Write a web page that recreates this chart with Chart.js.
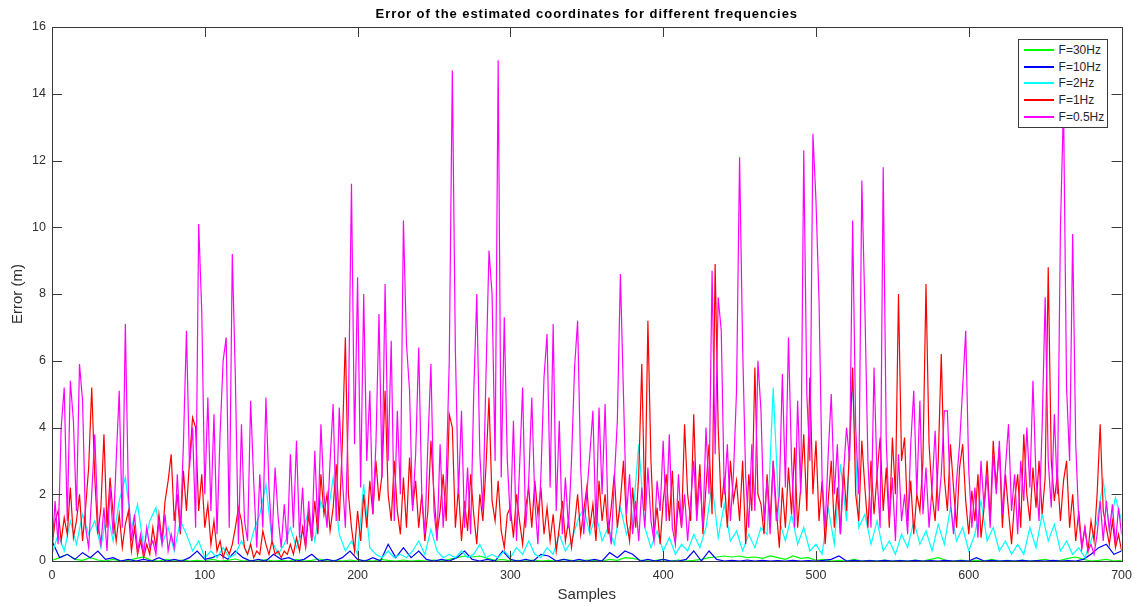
<!DOCTYPE html>
<html>
<head>
<meta charset="utf-8">
<script src="https://cdn.jsdelivr.net/npm/chart.js@4.4.1/dist/chart.umd.min.js"></script>
<style>
  html, body { margin: 0; padding: 0; background: #ffffff; }
  #wrap { position: relative; width: 1139px; height: 607px; }
  #title { position: absolute; top: 5px; text-align: center; white-space: nowrap;
           font-family: "Liberation Sans", Arial, sans-serif; font-weight: bold; font-size: 13px;
           letter-spacing: 0.95px; color: #000; line-height: 18px; }
  #legend { position: absolute; background: #fff; border: 1px solid #3a3a3a; padding: 2px 3px 2px 5px;
            font-family: "Liberation Sans", Arial, sans-serif; font-size: 12px; color: #262626; }
  .row { display: flex; align-items: center; height: 16.6px; }
  .sw { width: 30px; height: 2px; margin-right: 5px; }
</style>
</head>
<body>
<div id="wrap">
  <canvas id="c" width="1139" height="607"></canvas>
  <div id="title"></div>
  <div id="legend"></div>
</div>
<script>
// ---- data ----
const chartTitle = 'Error of the estimated coordinates for different frequencies';
const seriesLabels = ['F=30Hz', 'F=10Hz', 'F=2Hz', 'F=1Hz', 'F=0.5Hz'];
const seriesColors = ['#00ff00', '#0000ff', '#00ffff', '#ff0000', '#ff00ff'];
const xTicks = [0, 100, 200, 300, 400, 500, 600, 700];
const yTicks = [0, 2, 4, 6, 8, 10, 12, 14, 16];

// sample spacing of each value list
const greenStep = 5, blueStep = 5, cyanStep = 4, redStep = 2, magentaStep = 2;

const green = [0.02,0.1,0.2,0.05,0.02,0.1,0.03,0,0.05,0,0.02,0.08,0.12,0.02,0,0.05,0,0.03,0,0.02,
0,0.05,0,0.02,0.06,0,0.02,0,0.04,0,0.02,0,0.05,0,0.02,0.06,0,0.02,0,0.03,
0,0.02,0,0.05,0.02,0,0.03,0,0.02,0,0.03,0,0.05,0.1,0.15,0.12,0.15,0.08,0.02,0.05,
0,0.02,0,0.03,0,0.02,0,0.05,0.02,0,0.03,0.02,0,0.05,0.02,0.1,0.08,0.03,0,0.02,
0.05,0,0.03,0,0.02,0.05,0.1,0.12,0.15,0.12,0.15,0.1,0.12,0.08,0.15,0.1,0.05,0.15,0.08,0.1,
0.02,0.05,0,0.02,0,0.05,0,0.02,0,0.03,0,0.02,0,0.03,0,0.05,0.1,0.02,0,0.03,
0,0.02,0,0.05,0,0.02,0,0.03,0,0.02,0.05,0,0.02,0.08,0.12,0.05,0,0.02,0.05,0,0.02];

const blue = [0.6,0.1,0.2,0.05,0.25,0.1,0.3,0.05,0.1,0,0.05,0,0.05,0,0.1,0,0.05,0,0.1,0.3,
0.05,0.1,0.2,0.05,0.3,0.1,0,0.05,0,0.2,0.05,0.1,0,0.05,0.2,0,0.05,0,0.1,0.3,
0.05,0,0.1,0,0.5,0.1,0.4,0.1,0.3,0.05,0,0.05,0,0.1,0.3,0.05,0,0.05,0,0.3,
0.05,0,0.05,0,0.2,0.15,0,0.05,0,0.05,0,0.05,0,0.25,0.1,0.3,0.2,0,0.05,0,
0.05,0,0,0.05,0.3,0,0.3,0.05,0,0.02,0,0.03,0,0.02,0,0.01,0,0.02,0,0.01,
0,0.02,0.05,0.15,0,0.02,0,0.01,0,0.02,0,0.01,0,0.02,0,0.01,0,0.02,0,0.01,
0,0.1,0,0.02,0,0.01,0,0.02,0,0.01,0,0.02,0,0.01,0,0.05,0.2,0.4,0.5,0.2,0.3];

const cyan = [0.2,0.8,0.3,1.2,0.5,1.4,0.8,1.2,0.4,1.5,0.6,1.8,2.5,1.0,1.7,0.4,1.2,1.6,0.5,1.0,
0.3,1.2,0.8,0.3,0.6,0.1,0.3,0.1,0.4,0.1,0.2,0.6,0.2,0.9,1.4,2.3,0.6,0.2,0.5,1.0,
0.4,0.9,1.5,0.6,1.8,1.2,2.5,0.8,0.3,0.6,0.2,2.3,0.4,0.2,0.1,0.3,0.1,0.2,0.1,0.3,
0.6,0.2,0.95,0.3,0.1,0.2,0.1,0.3,0.1,0.2,0.5,0.1,0.2,0.1,0.3,0.1,0.4,0.2,0.6,0.2,
0.1,0.4,0.2,0.8,0.3,0.6,1.2,1.6,0.8,1.4,0.6,1.0,0.5,1.6,0.8,1.2,3.5,1.0,0.4,0.9,
0.3,0.7,0.2,0.5,0.3,0.8,0.4,1.0,2.3,0.7,1.7,0.6,0.9,0.3,0.8,0.4,1.0,0.8,5.2,1.2,
0.6,1.4,0.5,1.0,0.3,0.5,0.2,1.6,0.5,2.9,1.2,5.4,1.0,1.4,0.5,1.2,0.3,0.6,0.2,0.8,
0.4,1.2,0.5,0.9,0.3,1.1,0.5,1.6,0.6,1.0,0.3,0.8,1.8,0.6,1.0,0.3,0.6,0.2,0.5,0.2,
1.0,0.4,1.4,0.6,1.1,0.3,0.6,0.2,0.4,0.1,0.6,1.2,2.4,1.0,1.9,1.2];

const red = [0.4,1.2,1.5,0.6,1.3,0.8,2.2,0.7,1.2,2.0,0.6,1.6,2.8,5.2,2.5,0.8,1.6,3.8,1.0,2.5,1.4,0.6,1.4,0.4,1.1,
1.5,0.3,1.0,0.2,0.6,0.1,0.5,0.2,1.0,0.4,1.4,0.6,1.8,2.4,3.2,1.2,2.0,0.8,2.7,1.5,3.0,4.3,4.0,1.5,2.6,
1.0,1.7,0.5,1.2,0.3,0.6,0.1,0.4,0.2,0.5,1.0,1.6,1.2,0.4,0.2,0.5,0.1,0.3,0.2,0.9,0.5,0.2,0.6,0.2,0.3,
0.1,0.3,0.2,0.5,0.2,0.7,0.3,1.0,0.4,1.4,0.6,1.8,0.8,2.6,1.4,2.0,0.9,1.6,2.9,1.2,3.5,6.7,2.0,1.0,0.3,
1.5,0.6,2.0,1.0,2.4,1.4,3.0,1.8,2.6,5.1,2.0,1.2,3.0,1.5,0.8,2.5,1.0,3.1,1.6,2.4,1.0,2.0,0.6,1.5,3.6,
2.0,0.8,1.5,2.6,1.2,4.4,4.0,1.0,2.2,0.6,1.8,0.9,2.6,1.4,0.5,2.0,1.2,2.8,4.9,1.8,1.2,2.4,0.9,0.4,1.4,
1.6,0.7,2.0,1.2,0.5,1.6,2.2,1.0,2.4,1.4,2.2,0.8,1.6,0.6,1.4,0.3,1.0,1.8,0.6,1.2,0.4,1.1,2.0,0.8,1.5,
2.2,1.0,1.7,0.6,2.4,1.2,2.0,0.8,1.6,2.6,1.0,1.8,3.0,1.2,0.6,2.2,1.0,2.6,5.9,1.5,7.2,3.0,0.8,1.6,0.5,
1.8,2.6,1.2,2.7,0.6,1.8,1.0,4.1,2.0,1.2,4.4,1.5,2.9,0.8,2.2,3.5,1.4,8.9,4.0,1.6,2.5,1.0,3.0,1.8,2.4,
1.2,3.0,0.5,2.6,1.5,5.8,2.0,1.7,0.8,2.6,1.2,3.0,1.6,0.4,2.2,1.0,2.8,1.4,3.4,1.0,2.2,3.8,1.5,5.5,2.0,
3.6,1.2,2.4,0.5,1.8,3.0,1.0,2.2,0.8,2.8,1.5,3.4,5.8,2.0,1.2,3.6,2.2,1.0,3.0,1.4,2.6,3.7,1.5,2.8,1.0,
3.7,2.0,8.0,3.0,3.7,1.2,2.4,0.8,2.0,1.5,3.0,8.3,3.5,2.0,1.2,3.0,6.2,2.5,1.5,3.5,2.2,1.0,2.8,3.5,1.8,
0.8,2.1,1.2,2.6,0.7,1.6,3.0,1.2,3.6,2.2,3.4,1.0,2.6,1.5,0.5,1.8,2.6,1.0,3.8,2.0,1.2,2.8,1.6,3.0,1.4,
2.5,8.8,3.0,1.8,2.6,1.2,2.4,3.0,1.0,2.0,0.6,1.5,0.4,1.0,0.3,1.2,0.6,2.0,4.1,1.5,1.0,0.5,1.2,0.4,0.8,0.3];

const magenta = [0.3,1.8,0.5,4.0,5.2,1.2,5.4,4.2,1.5,5.9,4.8,1.0,0.4,2.0,3.8,1.2,0.5,1.6,0.3,2.2,0.8,3.0,5.1,1.0,7.1,
2.0,0.6,1.4,0.3,0.8,0.2,1.0,0.4,0.6,0.2,1.2,0.5,1.4,0.3,0.8,0.4,2.6,0.9,3.5,6.9,2.8,4.0,1.0,10.1,7.5,
2.0,4.9,1.5,4.4,0.8,3.8,6.0,6.7,1.0,9.2,5.5,0.5,4.1,1.2,0.6,4.8,2.4,0.4,2.6,1.0,4.9,2.2,0.6,2.8,1.3,
0.4,1.7,0.5,3.2,1.0,3.6,0.7,2.2,0.4,1.8,0.6,3.3,1.0,4.1,2.0,1.0,3.0,4.7,1.2,4.6,2.5,1.0,4.5,11.3,3.5,
8.5,2.2,8.0,3.0,5.1,1.4,3.5,7.4,2.5,8.3,3.0,6.6,1.2,4.5,2.0,10.2,6.5,5.1,1.5,3.2,6.4,2.0,0.8,3.5,5.9,
1.5,0.6,3.5,1.0,2.5,6.0,14.7,6.3,2.0,4.5,1.0,2.8,0.8,5.0,8.0,3.2,1.5,5.5,9.3,8.0,3.0,15.0,2.5,7.3,3.0,
1.2,4.2,0.6,2.8,5.2,1.0,2.4,4.9,1.8,0.5,2.6,5.5,6.8,2.2,7.1,1.5,4.2,0.8,2.5,1.0,3.0,5.8,7.2,2.8,0.8,
2.0,3.2,4.5,1.0,4.6,2.0,4.7,1.2,0.5,2.4,4.2,8.6,5.0,1.4,2.6,0.8,1.8,0.6,2.2,1.0,2.8,1.2,0.6,2.4,1.5,
3.6,1.2,3.8,1.0,0.5,2.6,1.0,2.0,0.6,1.8,3.0,1.2,2.5,1.0,4.0,2.0,8.7,3.2,7.9,6.9,2.0,3.5,1.2,2.6,5.1,
12.1,6.4,2.5,1.0,3.5,1.5,6.0,4.5,1.2,2.4,0.8,3.0,1.2,2.0,5.6,2.2,6.7,3.0,1.0,4.8,2.0,12.3,5.0,3.0,12.8,
10.8,7.8,2.5,1.0,3.2,5.0,2.0,3.5,0.8,2.6,4.0,3.0,10.2,4.0,2.0,11.4,7.6,3.0,1.0,5.8,2.5,1.0,11.8,3.6,1.2,
2.5,0.6,3.2,1.2,2.0,0.8,3.5,5.1,2.0,4.8,1.4,2.8,1.0,2.2,3.9,1.5,2.6,4.5,4.5,1.8,0.8,2.4,3.5,5.2,6.9,
2.7,1.0,2.2,0.7,3.0,1.6,2.6,1.0,3.2,2.0,3.6,1.4,2.8,4.1,1.5,2.6,0.8,3.0,1.8,4.0,2.2,5.4,2.5,1.2,4.0,
7.9,3.0,1.6,4.4,2.0,10.0,13.7,5.2,3.0,9.8,3.5,1.2,0.4,1.0,0.3,0.5,0.2,0.8,1.8,0.6,1.8,0.9,1.7,0.5,1.6,0.8];

const seriesValues = [green, blue, cyan, red, magenta];
const seriesSteps = [greenStep, blueStep, cyanStep, redStep, magentaStep];

// ---- chart ----
const AXIS = '#3a3a3a';
const TEXT = '#303030';
const FONT = '"Liberation Sans", Arial, sans-serif';

const boxAndTicks = {
  id: 'boxAndTicks',
  afterDatasetsDraw(chart) {
    const {ctx, chartArea: a, scales: {x, y}} = chart;
    const L = 10;
    ctx.save();
    ctx.strokeStyle = AXIS;
    ctx.lineWidth = 1;
    ctx.beginPath();
    xTicks.forEach(v => {
      const px = Math.round(x.getPixelForValue(v)) + 0.5;
      ctx.moveTo(px, a.bottom); ctx.lineTo(px, a.bottom - L);
      ctx.moveTo(px, a.top); ctx.lineTo(px, a.top + L);
    });
    yTicks.forEach(v => {
      const py = Math.round(y.getPixelForValue(v)) + 0.5;
      ctx.moveTo(a.left, py); ctx.lineTo(a.left + L, py);
      ctx.moveTo(a.right, py); ctx.lineTo(a.right - L, py);
    });
    ctx.stroke();
    ctx.strokeRect(Math.round(a.left) + 0.5, Math.round(a.top) + 0.5,
                   Math.round(a.right - a.left), Math.round(a.bottom - a.top));
    ctx.restore();
  }
};

const htmlOverlay = {
  id: 'htmlOverlay',
  afterRender(chart) {
    const a = chart.chartArea;
    const title = document.getElementById('title');
    title.textContent = chartTitle;
    title.style.left = a.left + 'px';
    title.style.width = (a.right - a.left) + 'px';

    const box = document.getElementById('legend');
    if (!box.dataset.built) {
      seriesLabels.forEach((lab, i) => {
        const row = document.createElement('div');
        row.className = 'row';
        const sw = document.createElement('span');
        sw.className = 'sw';
        sw.style.background = seriesColors[i];
        const t = document.createElement('span');
        t.textContent = lab;
        row.appendChild(sw); row.appendChild(t);
        box.appendChild(row);
      });
      box.dataset.built = '1';
    }
    box.style.left = (a.right - 13 - box.offsetWidth) + 'px';
    box.style.top = (a.top + 12) + 'px';
  }
};

const datasets = seriesLabels.map((lab, i) => ({
  label: lab,
  data: seriesValues[i].map((v, k) => ({x: k * seriesSteps[i], y: v})),
  borderColor: seriesColors[i],
  backgroundColor: seriesColors[i],
  borderWidth: 1.2,
  pointRadius: 0,
  tension: 0,
  fill: false,
  order: 5 - i
}));

new Chart(document.getElementById('c'), {
  type: 'line',
  data: { datasets },
  options: {
    responsive: false,
    animation: false,
    events: [],
    layout: { padding: { left: 0, right: 14, top: 27, bottom: 0 } },
    plugins: {
      legend: { display: false },
      tooltip: { enabled: false },
      title: { display: false }
    },
    scales: {
      x: {
        type: 'linear',
        min: 0, max: 700,
        afterBuildTicks: s => { s.ticks = xTicks.map(v => ({value: v})); },
        afterFit: s => { s.height = 46; },
        grid: { display: false, drawTicks: false, tickLength: 0 },
        border: { display: false },
        ticks: { color: TEXT, font: { family: FONT, size: 12.5 }, padding: 7, maxRotation: 0 },
        title: { display: true, text: 'Samples', color: TEXT, font: { family: FONT, size: 15 }, padding: { top: 0, bottom: 3 } }
      },
      y: {
        min: 0, max: 16,
        afterBuildTicks: s => { s.ticks = yTicks.map(v => ({value: v})); },
        afterFit: s => { s.width = 52; },
        grid: { display: false, drawTicks: false, tickLength: 0 },
        border: { display: false },
        ticks: { color: TEXT, font: { family: FONT, size: 12.5 }, padding: 6 },
        title: { display: true, text: 'Error (m)', color: TEXT, font: { family: FONT, size: 15 }, padding: { top: 9, bottom: 0 } }
      }
    }
  },
  plugins: [boxAndTicks, htmlOverlay]
});
</script>
</body>
</html>
